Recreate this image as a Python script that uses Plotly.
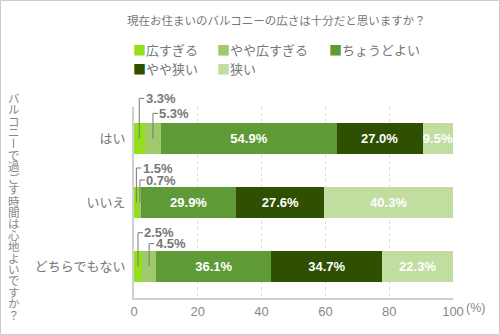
import plotly.graph_objects as go

# Survey: balcony size satisfaction, split by whether time on the balcony is pleasant
categories = ["はい", "いいえ", "どちらでもない"]
series_names = ["広すぎる", "やや広すぎる", "ちょうどよい", "やや狭い", "狭い"]
too_large = [3.3, 1.5, 2.5]
bit_large = [5.3, 0.7, 4.5]
just_right = [54.9, 29.9, 36.1]
bit_small = [27.0, 27.6, 34.7]
too_small = [9.5, 40.3, 22.3]
x_ticks = [0, 20, 40, 60, 80, 100]

series_values = [too_large, bit_large, just_right, bit_small, too_small]
colors = ["#93df1c", "#9fc96a", "#5e9a35", "#2e5000", "#c1dda0"]

title_text = "現在お住まいのバルコニーの広さは十分だと思いますか？"
y_title = "バルコニーで過ごす時間は心地よいですか？"

FONT = "Liberation Sans, Arial, Noto Sans CJK JP, sans-serif"
JP_FONT = "Noto Sans CJK JP, sans-serif"
GREY = "#777777"
W, H = 500, 335
L, R, T, B = 134, 47, 107, 37
PW, PH = W - L - R, H - T - B
SMALL = 6.0  # segments narrower than this get a callout label above the bar
# vertical rise (px above the bar centre) of the first and second callout per row
CALLOUT_RISE = [(40.5, 25.5), (34.5, 22.5), (33.5, 22.5)]


def xp(px):
    return (px - L) / PW


def yp(py):
    return (H - B - py) / PH


fig = go.Figure()
for name, vals, col in zip(series_names, series_values, colors):
    fig.add_trace(go.Bar(
        y=categories, x=vals, name=name, orientation="h",
        marker=dict(color=col, line=dict(width=0)),
        text=[f"{v:.1f}%" if v >= SMALL else "" for v in vals],
        textposition="inside", insidetextanchor="middle", textangle=0,
        textfont=dict(family=FONT, size=13, color="white", weight="bold"),
        hoverinfo="skip", showlegend=False,
    ))

shapes = []
annotations = []
units_per_px_x = 100.0 / PW
n_cat = len(categories)

# callout labels with elbow leader lines for the thin segments
for ci, cat in enumerate(categories):
    centre = 1.0 - (ci + 0.5) / n_cat  # bar centre in paper units
    left = 0.0
    k = 0
    for vals in series_values:
        v = vals[ci]
        if v < SMALL:
            xc = left + v / 2.0
            ytop = centre + CALLOUT_RISE[ci][k] / PH
            shapes.append(dict(type="line", xref="x", yref="paper", x0=xc, x1=xc,
                               y0=centre, y1=ytop, line=dict(color=GREY, width=1)))
            shapes.append(dict(type="line", xref="x", yref="paper", x0=xc,
                               x1=xc + 5 * units_per_px_x, y0=ytop, y1=ytop,
                               line=dict(color=GREY, width=1)))
            annotations.append(dict(x=xc + 5.5 * units_per_px_x, y=ytop, xref="x", yref="paper",
                                    text=f"{v:.1f}%", showarrow=False, xanchor="left",
                                    yanchor="middle", borderpad=0,
                                    font=dict(family=FONT, size=13, color=GREY, weight="bold")))
            k += 1
        left += v

# chart title
annotations.append(dict(x=xp(276), y=yp(20), xref="paper", yref="paper", text=title_text,
                        showarrow=False, xanchor="center", yanchor="middle",
                        font=dict(family=JP_FONT, size=11.5, color=GREY)))

# legend entries
legend_pos = [(131, 50), (215, 50), (327, 50), (131, 68), (215, 68)]
for (lx, ly), name, col in zip(legend_pos, series_names, colors):
    annotations.append(dict(x=xp(lx), y=yp(ly), xref="paper", yref="paper",
                            text=f"<span style='color:{col}'>■</span>{name}",
                            showarrow=False, xanchor="left", yanchor="middle",
                            font=dict(family=JP_FONT, size=13, color=GREY)))

# vertical (upright) axis title, one glyph per line
for i, ch in enumerate(y_title):
    annotations.append(dict(x=xp(14), y=yp(98 + i * 11.4), xref="paper", yref="paper",
                            text=ch, showarrow=False, xanchor="center", yanchor="middle",
                            textangle=90 if ch == "ー" else 0,
                            font=dict(family=JP_FONT, size=11.5, color="#888888")))

# unit after the last tick
annotations.append(dict(x=100, y=yp(308), xref="x", yref="paper", text="(%)",
                        showarrow=False, xanchor="left", yanchor="middle", xshift=11,
                        font=dict(family=FONT, size=12.5, color="#888888")))

# outer frame
shapes.append(dict(type="rect", xref="paper", yref="paper",
                   x0=xp(0.5), x1=xp(W - 0.5), y0=yp(0.5), y1=yp(H - 0.5),
                   line=dict(color="#cccccc", width=1), layer="below"))

fig.update_layout(
    width=W, height=H,
    margin=dict(l=L, r=R, t=T, b=B, pad=0),
    barmode="stack", bargap=0.51,
    paper_bgcolor="white", plot_bgcolor="white",
    font=dict(family=FONT, color=GREY),
    uniformtext=dict(minsize=13, mode="show"),
    shapes=shapes, annotations=annotations,
    showlegend=False,
    xaxis=dict(range=[0, 100], tickvals=x_ticks, ticktext=[str(t) for t in x_ticks],
               showgrid=True, gridcolor="#dddddd", griddash="dot", gridwidth=1,
               zeroline=False, showline=True, linecolor="#d0d0d0", linewidth=2,
               ticks="", tickfont=dict(family=FONT, size=13, color="#888888"),
               fixedrange=True),
    yaxis=dict(categoryorder="array", categoryarray=categories,
               range=[2.5, -0.5], showgrid=False, zeroline=False,
               showline=True, linecolor="#d0d0d0", linewidth=2, ticks="",
               ticklabelstandoff=4,
               tickfont=dict(family=JP_FONT, size=13, color=GREY), fixedrange=True),
)

fig.write_html("out.html")
